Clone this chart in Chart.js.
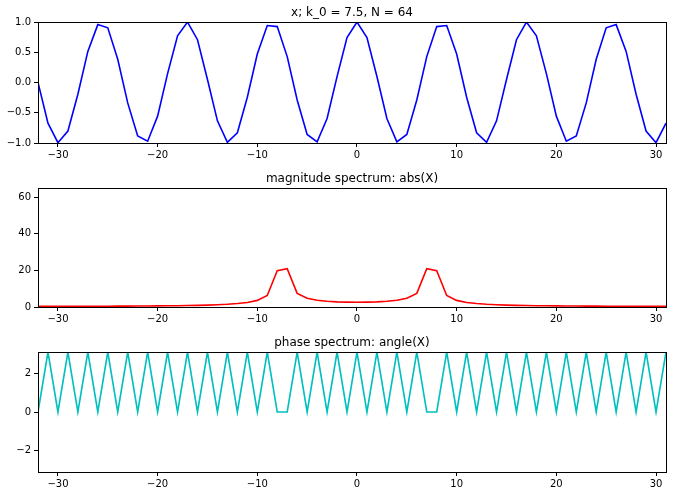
<!DOCTYPE html>
<html>
<head>
<meta charset="utf-8">
<script src="https://cdn.jsdelivr.net/npm/chart.js@4/dist/chart.umd.min.js"></script>
<style>
  body { margin: 0; background: #fff; }
  canvas { position: absolute; left: 0; }
</style>
</head>
<body>
<canvas id="sigChart" width="676" height="166" style="top:0px"></canvas>
<canvas id="magChart" width="676" height="164" style="top:166px"></canvas>
<canvas id="phaseChart" width="676" height="166" style="top:330px"></canvas>
<script>
// sample index n (and frequency index k), -32 .. 31
const nIdx = [-32,-31,-30,-29,-28,-27,-26,-25,-24,-23,-22,-21,-20,-19,-18,-17,-16,-15,-14,-13,-12,-11,-10,-9,-8,-7,-6,-5,-4,-3,-2,-1,
  0,1,2,3,4,5,6,7,8,9,10,11,12,13,14,15,16,17,18,19,20,21,22,23,24,25,26,27,28,29,30,31];

// signal x[n]
const xSig = [0,-0.672,-0.995,-0.803,-0.195,0.514,0.957,0.904,0.383,-0.337,-0.882,-0.970,-0.556,0.147,0.773,0.999,
  0.707,0.049,-0.634,-0.989,-0.831,-0.243,0.471,0.942,0.924,0.428,-0.290,-0.858,-0.981,-0.596,0.098,0.741,
  1,0.741,0.098,-0.596,-0.981,-0.858,-0.290,0.428,0.924,0.942,0.471,-0.243,-0.831,-0.989,-0.634,0.049,
  0.707,0.999,0.773,0.147,-0.556,-0.970,-0.882,-0.337,0.383,0.904,0.957,0.514,-0.195,-0.803,-0.995,-0.672];

// abs(X)
const magX = [0.386,0.387,0.390,0.396,0.403,0.414,0.427,0.444,0.464,0.488,0.518,0.554,0.598,0.651,0.717,0.800,
  0.906,1.044,1.230,1.490,1.874,2.491,3.623,6.303,19.842,20.947,7.419,4.764,3.671,3.109,2.800,2.642,
  2.592,2.642,2.800,3.109,3.671,4.764,7.419,20.947,19.842,6.303,3.623,2.491,1.874,1.490,1.230,1.044,
  0.906,0.800,0.717,0.651,0.598,0.554,0.518,0.488,0.464,0.444,0.427,0.414,0.403,0.396,0.390,0.387];

// angle(X)
const phaseX = [0,3.1416,0,3.1416,0,3.1416,0,3.1416,0,3.1416,0,3.1416,0,3.1416,0,3.1416,
  0,3.1416,0,3.1416,0,3.1416,0,3.1416,0,0,3.1416,0,3.1416,0,3.1416,0,
  3.1416,0,3.1416,0,3.1416,0,3.1416,0,0,3.1416,0,3.1416,0,3.1416,0,3.1416,
  0,3.1416,0,3.1416,0,3.1416,0,3.1416,0,3.1416,0,3.1416,0,3.1416,0,3.1416];

const xTicks = [-30,-20,-10,0,10,20,30];
const sigTicks = [-1,-0.5,0,0.5,1];
const magTicks = [0,20,40,60];
const phaseTicks = [-2,0,2];

const FONT = "'DejaVu Sans', sans-serif";
Chart.defaults.font.family = FONT;
Chart.defaults.color = '#000';

function minus(s) { return String(s).replace('-', '\u2212'); }

// box round the plot area (like matplotlib spines) + title centred over the axes
const frame = {
  id: 'frame',
  afterDatasetsDraw(chart, args, opts) {
    const a = chart.chartArea, ctx = chart.ctx;
    ctx.save();
    ctx.strokeStyle = '#000';
    ctx.lineWidth = 1;
    ctx.strokeRect(Math.round(a.left) + 0.5, Math.round(a.top) + 0.5,
      Math.round(a.right - a.left), Math.round(a.bottom - a.top));
    ctx.fillStyle = '#000';
    ctx.font = '12px ' + FONT;
    ctx.textAlign = 'center';
    ctx.textBaseline = 'alphabetic';
    ctx.fillText(opts.text, (a.left + a.right) / 2, a.top - 6);
    ctx.restore();
  }
};

function makeChart(id, title, vals, color, yMin, yMax, yTicks, yFmt, bottomH) {
  return new Chart(document.getElementById(id), {
    type: 'line',
    data: {
      datasets: [{
        data: nIdx.map((n, i) => ({ x: n, y: vals[i] })),
        borderColor: color,
        borderWidth: 1.6,
        pointRadius: 0,
        tension: 0,
        fill: false
      }]
    },
    options: {
      responsive: false,
      animation: false,
      layout: { padding: { top: 22, right: 10, bottom: 0, left: 0 } },
      plugins: {
        legend: { display: false },
        tooltip: { enabled: false },
        title: { display: false },
        frame: { text: title }
      },
      scales: {
        x: {
          type: 'linear',
          min: -32, max: 31,
          afterBuildTicks: s => { s.ticks = xTicks.map(v => ({ value: v })); },
          afterFit: s => { s.height = bottomH; },
          grid: { drawOnChartArea: false, drawTicks: true, tickLength: 4, color: '#000' },
          border: { display: false },
          ticks: { padding: 2, maxRotation: 0, font: { size: 10 }, callback: v => minus(v) }
        },
        y: {
          min: yMin, max: yMax,
          afterBuildTicks: s => { s.ticks = yTicks.map(v => ({ value: v })); },
          afterFit: s => { s.width = 38; },
          grid: { drawOnChartArea: false, drawTicks: true, tickLength: 4, color: '#000' },
          border: { display: false },
          ticks: { padding: 3, font: { size: 10 }, callback: yFmt }
        }
      }
    },
    plugins: [frame]
  });
}

makeChart('sigChart', 'x; k_0 = 7.5, N = 64', xSig, '#0000ff', -1, 1, sigTicks,
  v => minus(Number(v).toFixed(1)), 23);
makeChart('magChart', 'magnitude spectrum: abs(X)', magX, '#ff0000', 0, 65, magTicks,
  v => minus(v), 23);
makeChart('phaseChart', 'phase spectrum: angle(X)', phaseX, '#00bfbf', -Math.PI, Math.PI, phaseTicks,
  v => minus(v), 24);
</script>
</body>
</html>
